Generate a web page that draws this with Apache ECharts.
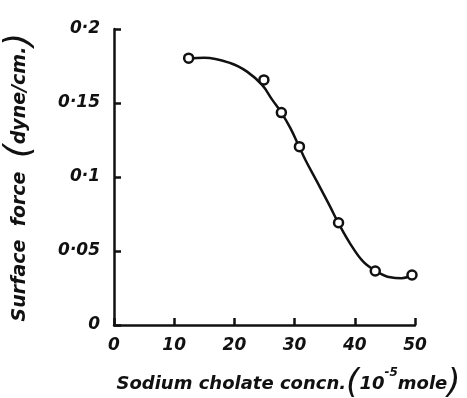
<!DOCTYPE html>
<html>
<head>
<meta charset="utf-8">
<script src="https://cdn.jsdelivr.net/npm/echarts@6/dist/echarts.min.js"></script>
<style>
  html, body { margin: 0; padding: 0; background: #fff; }
  #chart { width: 467px; height: 398px; }
</style>
</head>
<body>
<div id="chart"></div>
<script>
// measured points (concentration in 10^-5 mole, surface force in dyne/cm)
const concn = [12.4, 24.9, 27.8, 30.8, 37.3, 43.4, 49.5];
const force = [0.1803, 0.1656, 0.1435, 0.1205, 0.0691, 0.0365, 0.0338];

// hand-drawn fitted curve
const curveX = [12.3, 15.0, 19.4, 22.1, 24.6, 26.3, 27.8, 29.3, 30.7, 31.8, 33.7, 35.9, 37.3, 39.2, 41.4, 43.7, 45.9, 47.8, 49.2];
const curveY = [0.180, 0.1805, 0.1769, 0.1712, 0.1622, 0.1521, 0.1435, 0.133, 0.121, 0.1115, 0.097, 0.080, 0.0687, 0.0552, 0.0428, 0.036, 0.0322, 0.0316, 0.0331];

const xTicks = { min: 0, max: 50, step: 10 };
const yTicks = { min: 0, max: 0.2, step: 0.05 };

const font = '"DejaVu Sans", sans-serif';
const ink = '#111';

const chart = echarts.init(document.getElementById('chart'));

const option = {
  backgroundColor: '#fff',
  animation: false,
  grid: { left: 114, right: 52, top: 29, bottom: 73, outerBoundsMode: 'none' },
  xAxis: {
    type: 'value',
    min: xTicks.min,
    max: xTicks.max,
    interval: xTicks.step,
    axisLine: { lineStyle: { color: ink, width: 2.5 } },
    axisTick: { inside: true, length: 7, lineStyle: { color: ink, width: 2.5 } },
    splitLine: { show: false },
    axisLabel: {
      color: ink, fontFamily: font, fontSize: 17, fontWeight: 'bold', fontStyle: 'italic', margin: 12
    },
    name: '{t|Sodium cholate concn.}{p|(}{t|10}{s|-5}{t|mole}{p|)}',
    nameLocation: 'middle',
    nameGap: 42,
    nameTextStyle: {
      padding: [0, 0, 0, 48],
      rich: {
        t: { fontFamily: font, fontSize: 18, fontWeight: 'bold', fontStyle: 'italic', color: ink },
        s: { fontFamily: font, fontSize: 12, fontWeight: 'bold', fontStyle: 'italic', color: ink, verticalAlign: 'top', padding: [0, 0, 10, 0] },
        p: { fontFamily: font, fontSize: 34, fontStyle: 'italic', color: ink }
      }
    }
  },
  yAxis: {
    type: 'value',
    min: yTicks.min,
    max: yTicks.max,
    interval: yTicks.step,
    axisLine: { show: true, lineStyle: { color: ink, width: 2.5 } },
    axisTick: { show: true, inside: true, length: 7, lineStyle: { color: ink, width: 2.5 } },
    splitLine: { show: false },
    axisLabel: {
      color: ink, fontFamily: font, fontSize: 17, fontWeight: 'bold', fontStyle: 'italic', margin: 14,
      formatter: v => v === 0 ? '0' : String(+v.toFixed(2)).replace('.', '·')
    },
    name: '{t|Surface  force  }{p|(}{t|dyne/cm.}{p|)}',
    nameLocation: 'middle',
    nameRotate: 90,
    nameGap: 76,
    nameTextStyle: {
      rich: {
        t: { fontFamily: font, fontSize: 19, fontWeight: 'bold', fontStyle: 'italic', color: ink },
        p: { fontFamily: font, fontSize: 36, fontStyle: 'italic', color: ink }
      }
    }
  },
  series: [
    {
      type: 'line',
      data: curveX.map((x, i) => [x, curveY[i]]),
      smooth: 0.4,
      symbol: 'none',
      lineStyle: { color: ink, width: 2.5 },
      z: 2
    },
    {
      type: 'scatter',
      data: concn.map((x, i) => [x, force[i]]),
      symbol: 'circle',
      symbolSize: 9,
      itemStyle: { color: '#fff', opacity: 1, borderColor: ink, borderWidth: 2.5 },
      z: 3
    }
  ]
};

chart.setOption(option);
</script>
</body>
</html>
